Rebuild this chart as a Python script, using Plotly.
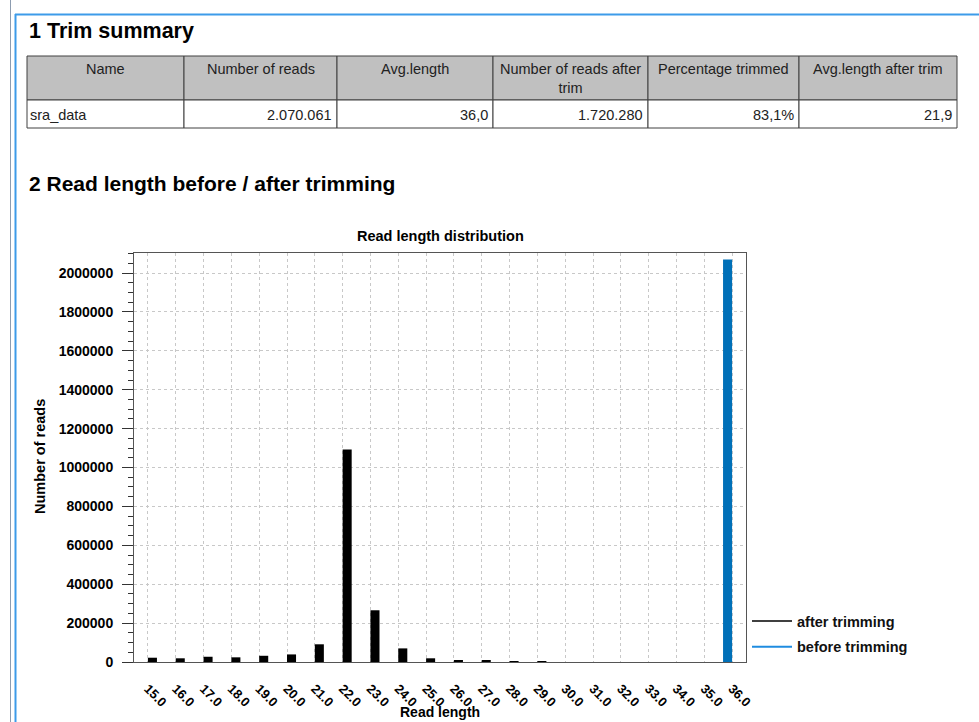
import plotly.graph_objects as go

W, H = 979, 722

# trim summary table
table_header = ["Name", "Number of reads", "Avg.length",
                "Number of reads after<br>trim", "Percentage trimmed", "Avg.length after trim"]
table_row = ["sra_data", "2.070.061", "36,0", "1.720.280", "83,1%", "21,9"]

# read length distribution
read_lengths = ["15.0", "16.0", "17.0", "18.0", "19.0", "20.0", "21.0", "22.0", "23.0", "24.0", "25.0",
                "26.0", "27.0", "28.0", "29.0", "30.0", "31.0", "32.0", "33.0", "34.0", "35.0", "36.0"]
after_trim = [22000, 19000, 27000, 24000, 32000, 39000, 91000, 1093000, 266000, 70000, 19000,
              8000, 6000, 5000, 5000, 0, 0, 0, 0, 0, 0, 0]
before_trim = [0, 0, 0, 0, 0, 0, 0, 0, 0, 0, 0,
               0, 0, 0, 0, 0, 0, 0, 0, 0, 0, 2070061]

FONT = "Liberation Sans, Arial, sans-serif"
BLUE = "#0070b8"


def px(x):
    return x / W


def py(y):
    return 1 - y / H


fig = go.Figure()
fig.add_trace(go.Bar(x=read_lengths, y=before_trim, marker=dict(color=BLUE, line_width=0),
                     showlegend=False, name="before trimming"))
fig.add_trace(go.Bar(x=read_lengths, y=after_trim, marker=dict(color="#000000", line_width=0),
                     showlegend=False, name="after trimming"))
# legend entries drawn as lines like the original
fig.add_trace(go.Scatter(x=[None], y=[None], mode="lines", line=dict(color="#404040", width=2),
                         name="after trimming", legendgroup="a"))
fig.add_trace(go.Scatter(x=[None], y=[None], mode="lines", line=dict(color="#1f8ce0", width=2),
                         name="before trimming", legendgroup="b"))

shapes = []
anns = []

# page frame
shapes.append(dict(type="line", xref="paper", yref="paper", x0=px(15), x1=px(979), y0=py(14.5), y1=py(14.5),
                   line=dict(color="#3d9be9", width=2)))
shapes.append(dict(type="line", xref="paper", yref="paper", x0=px(15.5), x1=px(15.5), y0=py(14), y1=py(722),
                   line=dict(color="#3d9be9", width=2)))
shapes.append(dict(type="line", xref="paper", yref="paper", x0=px(10.5), x1=px(10.5), y0=py(0), y1=py(722),
                   line=dict(color="#8c9cb0", width=1)))

# section headings
anns.append(dict(text="<b>1 Trim summary</b>", x=px(27), y=py(31), xanchor="left", yanchor="middle",
                 font=dict(size=21.5, color="#000")))
anns.append(dict(text="<b>2 Read length before / after trimming</b>", x=px(27), y=py(183),
                 xanchor="left", yanchor="middle", font=dict(size=21, color="#000")))

# table
col_edges = [27, 184, 337, 493, 648, 799, 957]
top, mid, bot = 56, 100, 128
for i in range(len(table_header)):
    x0, x1 = col_edges[i], col_edges[i + 1]
    shapes.append(dict(type="rect", xref="paper", yref="paper", x0=px(x0), x1=px(x1), y0=py(top), y1=py(mid),
                       fillcolor="#c0c0c0", line=dict(color="#404040", width=1)))
    shapes.append(dict(type="rect", xref="paper", yref="paper", x0=px(x0), x1=px(x1), y0=py(mid), y1=py(bot),
                       fillcolor="#ffffff", line=dict(color="#404040", width=1)))
    anns.append(dict(text=table_header[i], x=px((x0 + x1) / 2), y=py(top + 3), xanchor="center", yanchor="top",
                     font=dict(size=14.5, color="#222")))
    if i == 0:
        anns.append(dict(text=table_row[i], x=px(x0 + 1), y=py(115), xanchor="left", yanchor="middle",
                         font=dict(size=14.5, color="#222")))
    else:
        anns.append(dict(text=table_row[i], x=px(x1 - 3), y=py(115), xanchor="right", yanchor="middle",
                         font=dict(size=14.5, color="#222")))

# chart titles
anns.append(dict(text="<b>Read length distribution</b>", x=px(440), y=py(236), xanchor="center",
                 yanchor="middle", font=dict(size=14.5, color="#000")))
anns.append(dict(text="<b>Number of reads</b>", x=px(40), y=py(457), xanchor="center", yanchor="middle",
                 textangle=-90, font=dict(size=14.5, color="#000")))
anns.append(dict(text="<b>Read length</b>", x=px(440), y=py(712), xanchor="center", yanchor="middle",
                 font=dict(size=14, color="#000")))

for a in anns:
    a.update(xref="paper", yref="paper", showarrow=False)

fig.update_layout(
    width=W, height=H,
    margin=dict(l=0, r=0, t=0, b=0, autoexpand=False),
    paper_bgcolor="white", plot_bgcolor="white",
    font=dict(family=FONT, color="#000"),
    barmode="group", bargap=0.35, bargroupgap=0,
    shapes=shapes, annotations=anns,
    legend=dict(x=px(747), y=py(605), xanchor="left", yanchor="top", traceorder="grouped",
                font=dict(size=14.5, color="#111", family=FONT, weight="bold"), bgcolor="rgba(0,0,0,0)",
                tracegroupgap=4, itemwidth=40),
    xaxis=dict(domain=[px(134), px(746)], tickangle=45, showline=True, mirror=True, linecolor="#555",
               ticks="", showgrid=True, gridcolor="#c8c8c8", griddash="dot", gridwidth=1,
               ticklabelstandoff=13, automargin=False,
               tickfont=dict(size=13, family=FONT, weight="bold"), fixedrange=True),
    yaxis=dict(domain=[py(662), py(253)], range=[0, 2103000], dtick=200000, tickformat="d",
               showline=True, mirror=True, linecolor="#555", ticks="outside", ticklen=11, tickcolor="#333",
               showgrid=True, gridcolor="#c8c8c8", griddash="dot", gridwidth=1, zeroline=False,
               ticklabelstandoff=6, automargin=False,
               minor=dict(dtick=50000, ticks="outside", ticklen=5, tickcolor="#333", showgrid=False),
               tickfont=dict(size=14, family=FONT, weight="bold"), fixedrange=True),
)

# drop the browser's default body margin so the figure sits at the page origin
fig.write_html("out.html", config={"displayModeBar": False},
               post_script="document.body.style.margin='0';")
